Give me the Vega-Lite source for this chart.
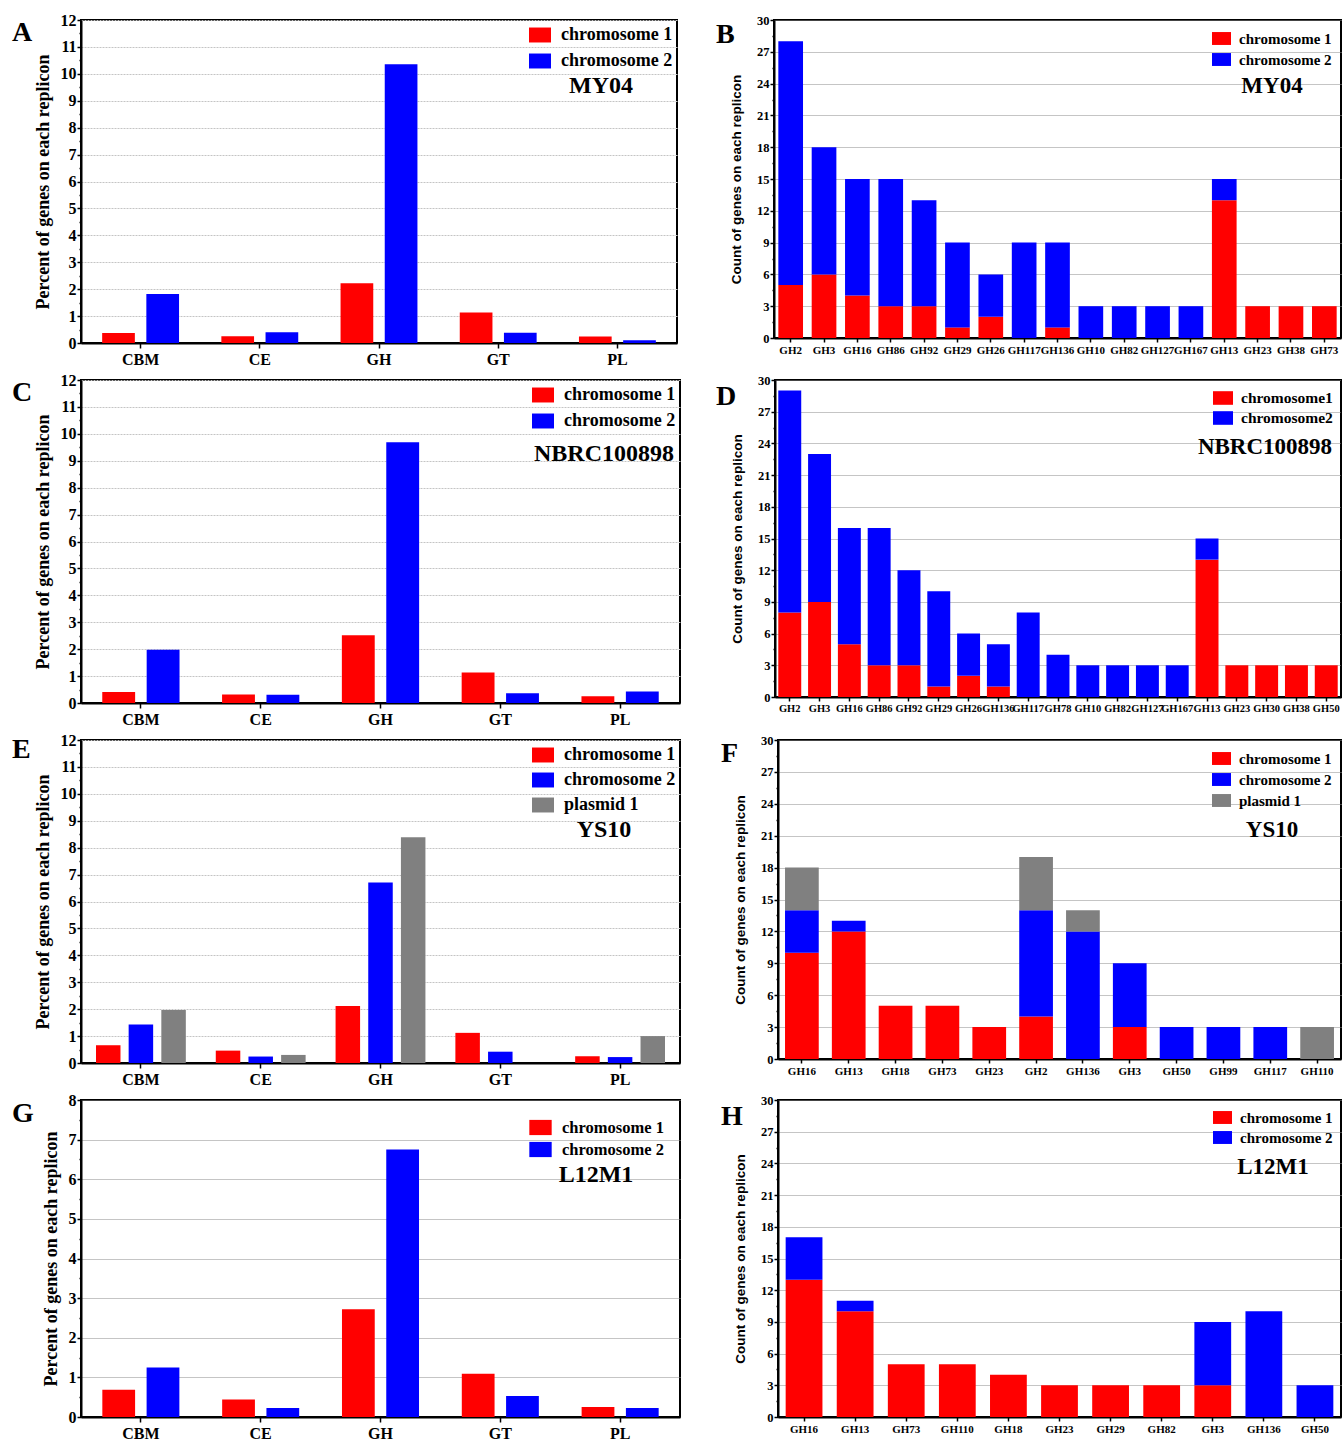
{
  "$schema": "https://vega.github.io/schema/vega-lite/v6.json",
  "background": "white",
  "padding": {"left": 11, "top": 11, "right": 0, "bottom": 0},
  "spacing": 3,
  "resolve": {"scale": {"color": "independent", "xOffset": "independent"}, "legend": {"color": "independent"}},
  "vconcat": [
    {
      "spacing": 37,
      "resolve": {"scale": {"color": "independent", "xOffset": "independent"}, "legend": {"color": "independent"}},
      "hconcat": [
        {
          "width": 596, "height": 323,
          "title": {"text": "A", "dx": -69, "dy": 39},
          "data": {"values": [
            {"family": "CBM", "replicon": "chromosome 1", "percent": 0.37},
            {"family": "CBM", "replicon": "chromosome 2", "percent": 1.82},
            {"family": "CE", "replicon": "chromosome 1", "percent": 0.25},
            {"family": "CE", "replicon": "chromosome 2", "percent": 0.40},
            {"family": "GH", "replicon": "chromosome 1", "percent": 2.22},
            {"family": "GH", "replicon": "chromosome 2", "percent": 10.36},
            {"family": "GT", "replicon": "chromosome 1", "percent": 1.13},
            {"family": "GT", "replicon": "chromosome 2", "percent": 0.38},
            {"family": "PL", "replicon": "chromosome 1", "percent": 0.24},
            {"family": "PL", "replicon": "chromosome 2", "percent": 0.10}
          ]},
          "mark": {"type": "bar"},
          "encoding": {
            "x": {"field": "family", "type": "nominal", "sort": null,
                  "scale": {"paddingInner": 0.355, "paddingOuter": 0.1775},
                  "axis": {"title": null, "labelFontSize": 16, "tickSize": 5, "labelPadding": 3}},
            "xOffset": {"field": "replicon", "type": "nominal",
                        "scale": {"domain": ["chromosome 1", "chromosome 2"], "paddingInner": 0.26, "paddingOuter": 0}},
            "y": {"field": "percent", "type": "quantitative",
                  "scale": {"domain": [0, 12], "nice": false},
                  "axis": {"title": "Percent of genes on each replicon", "titleFont": "Liberation Serif", "titleFontSize": 18, "titlePadding": 8,
                           "labelFontSize": 16, "labelPadding": 1,
                           "values": [0, 0.5, 1, 1.5, 2, 2.5, 3, 3.5, 4, 4.5, 5, 5.5, 6, 6.5, 7, 7.5, 8, 8.5, 9, 9.5, 10, 10.5, 11, 11.5, 12],
                           "labelExpr": "datum.value % 1 === 0 ? '' + datum.value : ''",
                           "tickSize": {"condition": {"test": "datum.value % 1 !== 0", "value": 2}, "value": 4},
                           "grid": true, "gridColor": "#c4c4c4", "gridDash": [2, 1],
                           "gridOpacity": {"condition": {"test": "datum.value % 1 !== 0", "value": 0}, "value": 1}}},
            "color": {"field": "replicon", "type": "nominal",
                      "scale": {"domain": ["chromosome 1", "chromosome 2"], "range": ["#ff0000", "#0000ff"]},
                      "legend": {"title": "MY04", "titleFontSize": 24, "labelFontSize": 18, "symbolSize": 484, "offset": 4, "rowPadding": 6, "labelOffset": 10, "titlePadding": 4}}
          }
        },
        {
          "width": 567, "height": 318,
          "title": {"text": "B", "dx": -58, "dy": 39},
          "data": {"values": [
            {"family": "GH2", "replicon": "chromosome 1", "count": 5},
            {"family": "GH2", "replicon": "chromosome 2", "count": 23},
            {"family": "GH3", "replicon": "chromosome 1", "count": 6},
            {"family": "GH3", "replicon": "chromosome 2", "count": 12},
            {"family": "GH16", "replicon": "chromosome 1", "count": 4},
            {"family": "GH16", "replicon": "chromosome 2", "count": 11},
            {"family": "GH86", "replicon": "chromosome 1", "count": 3},
            {"family": "GH86", "replicon": "chromosome 2", "count": 12},
            {"family": "GH92", "replicon": "chromosome 1", "count": 3},
            {"family": "GH92", "replicon": "chromosome 2", "count": 10},
            {"family": "GH29", "replicon": "chromosome 1", "count": 1},
            {"family": "GH29", "replicon": "chromosome 2", "count": 8},
            {"family": "GH26", "replicon": "chromosome 1", "count": 2},
            {"family": "GH26", "replicon": "chromosome 2", "count": 4},
            {"family": "GH117", "replicon": "chromosome 2", "count": 9},
            {"family": "GH136", "replicon": "chromosome 1", "count": 1},
            {"family": "GH136", "replicon": "chromosome 2", "count": 8},
            {"family": "GH10", "replicon": "chromosome 2", "count": 3},
            {"family": "GH82", "replicon": "chromosome 2", "count": 3},
            {"family": "GH127", "replicon": "chromosome 2", "count": 3},
            {"family": "GH167", "replicon": "chromosome 2", "count": 3},
            {"family": "GH13", "replicon": "chromosome 1", "count": 13},
            {"family": "GH13", "replicon": "chromosome 2", "count": 2},
            {"family": "GH23", "replicon": "chromosome 1", "count": 3},
            {"family": "GH38", "replicon": "chromosome 1", "count": 3},
            {"family": "GH73", "replicon": "chromosome 1", "count": 3}
          ]},
          "mark": {"type": "bar"},
          "encoding": {
            "x": {"field": "family", "type": "nominal", "sort": null,
                  "scale": {"paddingInner": 0.26, "paddingOuter": 0.13},
                  "axis": {"title": null, "labelFontSize": 11, "tickSize": 4, "labelPadding": 2}},
            "y": {"field": "count", "type": "quantitative", "stack": "zero",
                  "scale": {"domain": [0, 30], "nice": false},
                  "axis": {"title": "Count of genes on each replicon", "titleFont": "Liberation Sans", "titleFontSize": 13.5, "titlePadding": 13,
                           "labelFontSize": 12.5, "labelPadding": 1,
                           "values": [0, 1.5, 3, 4.5, 6, 7.5, 9, 10.5, 12, 13.5, 15, 16.5, 18, 19.5, 21, 22.5, 24, 25.5, 27, 28.5, 30],
                           "labelExpr": "datum.value % 3 === 0 ? '' + datum.value : ''",
                           "tickSize": {"condition": {"test": "datum.value % 3 !== 0", "value": 2}, "value": 4},
                           "grid": true, "gridColor": "#8a8a8a", "gridDash": [1, 1],
                           "gridOpacity": {"condition": {"test": "datum.value % 3 !== 0", "value": 0}, "value": 1}}},
            "order": {"field": "replicon", "sort": "ascending"},
            "color": {"field": "replicon", "type": "nominal",
                      "scale": {"domain": ["chromosome 1", "chromosome 2"], "range": ["#ff0000", "#0000ff"]},
                      "legend": {"title": "MY04", "titleFontSize": 23, "labelFontSize": 15, "symbolSize": 361, "offset": 9, "rowPadding": 3, "labelOffset": 8, "titlePadding": 7}}
          }
        }
      ]
    },
    {
      "spacing": 34,
      "resolve": {"scale": {"color": "independent", "xOffset": "independent"}, "legend": {"color": "independent"}},
      "hconcat": [
        {
          "width": 599, "height": 323,
          "title": {"text": "C", "dx": -69, "dy": 39},
          "data": {"values": [
            {"family": "CBM", "replicon": "chromosome 1", "percent": 0.41},
            {"family": "CBM", "replicon": "chromosome 2", "percent": 1.98},
            {"family": "CE", "replicon": "chromosome 1", "percent": 0.32},
            {"family": "CE", "replicon": "chromosome 2", "percent": 0.31},
            {"family": "GH", "replicon": "chromosome 1", "percent": 2.52},
            {"family": "GH", "replicon": "chromosome 2", "percent": 9.69},
            {"family": "GT", "replicon": "chromosome 1", "percent": 1.13},
            {"family": "GT", "replicon": "chromosome 2", "percent": 0.36},
            {"family": "PL", "replicon": "chromosome 1", "percent": 0.25},
            {"family": "PL", "replicon": "chromosome 2", "percent": 0.43}
          ]},
          "mark": {"type": "bar"},
          "encoding": {
            "x": {"field": "family", "type": "nominal", "sort": null,
                  "scale": {"paddingInner": 0.355, "paddingOuter": 0.1775},
                  "axis": {"title": null, "labelFontSize": 16, "tickSize": 5, "labelPadding": 3}},
            "xOffset": {"field": "replicon", "type": "nominal",
                        "scale": {"domain": ["chromosome 1", "chromosome 2"], "paddingInner": 0.26, "paddingOuter": 0}},
            "y": {"field": "percent", "type": "quantitative",
                  "scale": {"domain": [0, 12], "nice": false},
                  "axis": {"title": "Percent of genes on each replicon", "titleFont": "Liberation Serif", "titleFontSize": 18, "titlePadding": 8,
                           "labelFontSize": 16, "labelPadding": 1,
                           "values": [0, 0.5, 1, 1.5, 2, 2.5, 3, 3.5, 4, 4.5, 5, 5.5, 6, 6.5, 7, 7.5, 8, 8.5, 9, 9.5, 10, 10.5, 11, 11.5, 12],
                           "labelExpr": "datum.value % 1 === 0 ? '' + datum.value : ''",
                           "tickSize": {"condition": {"test": "datum.value % 1 !== 0", "value": 2}, "value": 4},
                           "grid": true, "gridColor": "#c4c4c4", "gridDash": [2, 1],
                           "gridOpacity": {"condition": {"test": "datum.value % 1 !== 0", "value": 0}, "value": 1}}},
            "color": {"field": "replicon", "type": "nominal",
                      "scale": {"domain": ["chromosome 1", "chromosome 2"], "range": ["#ff0000", "#0000ff"]},
                      "legend": {"title": "NBRC100898", "titleFontSize": 24, "labelFontSize": 18, "symbolSize": 484, "offset": 4, "rowPadding": 6, "labelOffset": 10, "titlePadding": 12}}
          }
        },
        {
          "width": 566, "height": 317,
          "title": {"text": "D", "dx": -59, "dy": 41},
          "data": {"values": [
            {"family": "GH2", "replicon": "chromosome1", "count": 8},
            {"family": "GH2", "replicon": "chromosome2", "count": 21},
            {"family": "GH3", "replicon": "chromosome1", "count": 9},
            {"family": "GH3", "replicon": "chromosome2", "count": 14},
            {"family": "GH16", "replicon": "chromosome1", "count": 5},
            {"family": "GH16", "replicon": "chromosome2", "count": 11},
            {"family": "GH86", "replicon": "chromosome1", "count": 3},
            {"family": "GH86", "replicon": "chromosome2", "count": 13},
            {"family": "GH92", "replicon": "chromosome1", "count": 3},
            {"family": "GH92", "replicon": "chromosome2", "count": 9},
            {"family": "GH29", "replicon": "chromosome1", "count": 1},
            {"family": "GH29", "replicon": "chromosome2", "count": 9},
            {"family": "GH26", "replicon": "chromosome1", "count": 2},
            {"family": "GH26", "replicon": "chromosome2", "count": 4},
            {"family": "GH136", "replicon": "chromosome1", "count": 1},
            {"family": "GH136", "replicon": "chromosome2", "count": 4},
            {"family": "GH117", "replicon": "chromosome2", "count": 8},
            {"family": "GH78", "replicon": "chromosome2", "count": 4},
            {"family": "GH10", "replicon": "chromosome2", "count": 3},
            {"family": "GH82", "replicon": "chromosome2", "count": 3},
            {"family": "GH127", "replicon": "chromosome2", "count": 3},
            {"family": "GH167", "replicon": "chromosome2", "count": 3},
            {"family": "GH13", "replicon": "chromosome1", "count": 13},
            {"family": "GH13", "replicon": "chromosome2", "count": 2},
            {"family": "GH23", "replicon": "chromosome1", "count": 3},
            {"family": "GH30", "replicon": "chromosome1", "count": 3},
            {"family": "GH38", "replicon": "chromosome1", "count": 3},
            {"family": "GH50", "replicon": "chromosome1", "count": 3}
          ]},
          "mark": {"type": "bar"},
          "encoding": {
            "x": {"field": "family", "type": "nominal", "sort": null,
                  "scale": {"paddingInner": 0.23, "paddingOuter": 0.11},
                  "axis": {"title": null, "labelFontSize": 10.5, "tickSize": 4, "labelPadding": 2}},
            "y": {"field": "count", "type": "quantitative", "stack": "zero",
                  "scale": {"domain": [0, 30], "nice": false},
                  "axis": {"title": "Count of genes on each replicon", "titleFont": "Liberation Sans", "titleFontSize": 13.5, "titlePadding": 13,
                           "labelFontSize": 12.5, "labelPadding": 1,
                           "values": [0, 1.5, 3, 4.5, 6, 7.5, 9, 10.5, 12, 13.5, 15, 16.5, 18, 19.5, 21, 22.5, 24, 25.5, 27, 28.5, 30],
                           "labelExpr": "datum.value % 3 === 0 ? '' + datum.value : ''",
                           "tickSize": {"condition": {"test": "datum.value % 3 !== 0", "value": 2}, "value": 4},
                           "grid": true, "gridColor": "#8a8a8a", "gridDash": [1, 1],
                           "gridOpacity": {"condition": {"test": "datum.value % 3 !== 0", "value": 0}, "value": 1}}},
            "order": {"field": "replicon", "sort": "ascending"},
            "color": {"field": "replicon", "type": "nominal",
                      "scale": {"domain": ["chromosome1", "chromosome2"], "range": ["#ff0000", "#0000ff"]},
                      "legend": {"title": "NBRC100898", "titleFontSize": 23, "labelFontSize": 15.5, "symbolSize": 400, "symbolOffset": 16, "offset": 8, "rowPadding": 1, "labelOffset": 8, "titlePadding": 9}}
          }
        }
      ]
    },
    {
      "spacing": 39,
      "resolve": {"scale": {"color": "independent", "xOffset": "independent"}, "legend": {"color": "independent"}},
      "hconcat": [
        {
          "width": 599, "height": 323,
          "title": {"text": "E", "dx": -69, "dy": 36},
          "data": {"values": [
            {"family": "CBM", "replicon": "chromosome 1", "percent": 0.66},
            {"family": "CBM", "replicon": "chromosome 2", "percent": 1.43},
            {"family": "CBM", "replicon": "plasmid 1", "percent": 1.97},
            {"family": "CE", "replicon": "chromosome 1", "percent": 0.46},
            {"family": "CE", "replicon": "chromosome 2", "percent": 0.24},
            {"family": "CE", "replicon": "plasmid 1", "percent": 0.30},
            {"family": "GH", "replicon": "chromosome 1", "percent": 2.12},
            {"family": "GH", "replicon": "chromosome 2", "percent": 6.71},
            {"family": "GH", "replicon": "plasmid 1", "percent": 8.39},
            {"family": "GT", "replicon": "chromosome 1", "percent": 1.12},
            {"family": "GT", "replicon": "chromosome 2", "percent": 0.42},
            {"family": "PL", "replicon": "chromosome 1", "percent": 0.25},
            {"family": "PL", "replicon": "chromosome 2", "percent": 0.22},
            {"family": "PL", "replicon": "plasmid 1", "percent": 1.00}
          ]},
          "mark": {"type": "bar"},
          "encoding": {
            "x": {"field": "family", "type": "nominal", "sort": null,
                  "scale": {"paddingInner": 0.25, "paddingOuter": 0.125},
                  "axis": {"title": null, "labelFontSize": 16, "tickSize": 5, "labelPadding": 3}},
            "xOffset": {"field": "replicon", "type": "nominal",
                        "scale": {"domain": ["chromosome 1", "chromosome 2", "plasmid 1"], "paddingInner": 0.25, "paddingOuter": 0}},
            "y": {"field": "percent", "type": "quantitative",
                  "scale": {"domain": [0, 12], "nice": false},
                  "axis": {"title": "Percent of genes on each replicon", "titleFont": "Liberation Serif", "titleFontSize": 18, "titlePadding": 8,
                           "labelFontSize": 16, "labelPadding": 1,
                           "values": [0, 0.5, 1, 1.5, 2, 2.5, 3, 3.5, 4, 4.5, 5, 5.5, 6, 6.5, 7, 7.5, 8, 8.5, 9, 9.5, 10, 10.5, 11, 11.5, 12],
                           "labelExpr": "datum.value % 1 === 0 ? '' + datum.value : ''",
                           "tickSize": {"condition": {"test": "datum.value % 1 !== 0", "value": 2}, "value": 4},
                           "grid": true, "gridColor": "#c4c4c4", "gridDash": [2, 1],
                           "gridOpacity": {"condition": {"test": "datum.value % 1 !== 0", "value": 0}, "value": 1}}},
            "color": {"field": "replicon", "type": "nominal",
                      "scale": {"domain": ["chromosome 1", "chromosome 2", "plasmid 1"], "range": ["#ff0000", "#0000ff", "#808080"]},
                      "legend": {"title": "YS10", "titleFontSize": 24, "labelFontSize": 18, "symbolSize": 484, "offset": 4, "rowPadding": 5, "labelOffset": 10, "titlePadding": 4}}
          }
        },
        {
          "width": 563, "height": 319,
          "title": {"text": "F", "dx": -57, "dy": 38},
          "data": {"values": [
            {"family": "GH16", "replicon": "chromosome 1", "count": 10},
            {"family": "GH16", "replicon": "chromosome 2", "count": 4},
            {"family": "GH16", "replicon": "plasmid 1", "count": 4},
            {"family": "GH13", "replicon": "chromosome 1", "count": 12},
            {"family": "GH13", "replicon": "chromosome 2", "count": 1},
            {"family": "GH18", "replicon": "chromosome 1", "count": 5},
            {"family": "GH73", "replicon": "chromosome 1", "count": 5},
            {"family": "GH23", "replicon": "chromosome 1", "count": 3},
            {"family": "GH2", "replicon": "chromosome 1", "count": 4},
            {"family": "GH2", "replicon": "chromosome 2", "count": 10},
            {"family": "GH2", "replicon": "plasmid 1", "count": 5},
            {"family": "GH136", "replicon": "chromosome 2", "count": 12},
            {"family": "GH136", "replicon": "plasmid 1", "count": 2},
            {"family": "GH3", "replicon": "chromosome 1", "count": 3},
            {"family": "GH3", "replicon": "chromosome 2", "count": 6},
            {"family": "GH50", "replicon": "chromosome 2", "count": 3},
            {"family": "GH99", "replicon": "chromosome 2", "count": 3},
            {"family": "GH117", "replicon": "chromosome 2", "count": 3},
            {"family": "GH110", "replicon": "plasmid 1", "count": 3}
          ]},
          "mark": {"type": "bar"},
          "encoding": {
            "x": {"field": "family", "type": "nominal", "sort": null,
                  "scale": {"paddingInner": 0.28, "paddingOuter": 0.15},
                  "axis": {"title": null, "labelFontSize": 11, "tickSize": 4, "labelPadding": 2}},
            "y": {"field": "count", "type": "quantitative", "stack": "zero",
                  "scale": {"domain": [0, 30], "nice": false},
                  "axis": {"title": "Count of genes on each replicon", "titleFont": "Liberation Sans", "titleFontSize": 13.5, "titlePadding": 13,
                           "labelFontSize": 12.5, "labelPadding": 1,
                           "values": [0, 1.5, 3, 4.5, 6, 7.5, 9, 10.5, 12, 13.5, 15, 16.5, 18, 19.5, 21, 22.5, 24, 25.5, 27, 28.5, 30],
                           "labelExpr": "datum.value % 3 === 0 ? '' + datum.value : ''",
                           "tickSize": {"condition": {"test": "datum.value % 3 !== 0", "value": 2}, "value": 4},
                           "grid": true, "gridColor": "#8a8a8a", "gridDash": [1, 1],
                           "gridOpacity": {"condition": {"test": "datum.value % 3 !== 0", "value": 0}, "value": 1}}},
            "order": {"field": "replicon", "sort": "ascending"},
            "color": {"field": "replicon", "type": "nominal",
                      "scale": {"domain": ["chromosome 1", "chromosome 2", "plasmid 1"], "range": ["#ff0000", "#0000ff", "#808080"]},
                      "legend": {"title": "YS10", "titleFontSize": 23, "labelFontSize": 15, "symbolSize": 361, "offset": 9, "rowPadding": 3, "labelOffset": 8, "titlePadding": 10}}
          }
        }
      ]
    },
    {
      "spacing": 39,
      "resolve": {"scale": {"color": "independent", "xOffset": "independent"}, "legend": {"color": "independent"}},
      "hconcat": [
        {
          "width": 599, "height": 317,
          "title": {"text": "G", "dx": -69, "dy": 40},
          "data": {"values": [
            {"family": "CBM", "replicon": "chromosome 1", "percent": 0.69},
            {"family": "CBM", "replicon": "chromosome 2", "percent": 1.25},
            {"family": "CE", "replicon": "chromosome 1", "percent": 0.44},
            {"family": "CE", "replicon": "chromosome 2", "percent": 0.23},
            {"family": "GH", "replicon": "chromosome 1", "percent": 2.72},
            {"family": "GH", "replicon": "chromosome 2", "percent": 6.75},
            {"family": "GT", "replicon": "chromosome 1", "percent": 1.09},
            {"family": "GT", "replicon": "chromosome 2", "percent": 0.53},
            {"family": "PL", "replicon": "chromosome 1", "percent": 0.25},
            {"family": "PL", "replicon": "chromosome 2", "percent": 0.23}
          ]},
          "mark": {"type": "bar"},
          "encoding": {
            "x": {"field": "family", "type": "nominal", "sort": null,
                  "scale": {"paddingInner": 0.357, "paddingOuter": 0.178},
                  "axis": {"title": null, "labelFontSize": 16, "tickSize": 5, "labelPadding": 3}},
            "xOffset": {"field": "replicon", "type": "nominal",
                        "scale": {"domain": ["chromosome 1", "chromosome 2"], "paddingInner": 0.26, "paddingOuter": 0}},
            "y": {"field": "percent", "type": "quantitative",
                  "scale": {"domain": [0, 8], "nice": false},
                  "axis": {"title": "Percent of genes on each replicon", "titleFont": "Liberation Serif", "titleFontSize": 18, "titlePadding": 8,
                           "labelFontSize": 16, "labelPadding": 1,
                           "values": [0, 0.5, 1, 1.5, 2, 2.5, 3, 3.5, 4, 4.5, 5, 5.5, 6, 6.5, 7, 7.5, 8],
                           "labelExpr": "datum.value % 1 === 0 ? '' + datum.value : ''",
                           "tickSize": {"condition": {"test": "datum.value % 1 !== 0", "value": 2}, "value": 4},
                           "grid": true, "gridColor": "#8a8a8a", "gridDash": [1, 1],
                           "gridOpacity": {"condition": {"test": "datum.value % 1 !== 0", "value": 0}, "value": 1}}},
            "color": {"field": "replicon", "type": "nominal",
                      "scale": {"domain": ["chromosome 1", "chromosome 2"], "range": ["#ff0000", "#0000ff"]},
                      "legend": {"title": "L12M1", "titleFontSize": 24, "labelFontSize": 16.5, "symbolSize": 500, "offset": 16, "rowPadding": 2, "labelOffset": 10, "titlePadding": 5}}
          }
        },
        {
          "width": 563, "height": 317,
          "title": {"text": "H", "dx": -57, "dy": 41},
          "data": {"values": [
            {"family": "GH16", "replicon": "chromosome 1", "count": 13},
            {"family": "GH16", "replicon": "chromosome 2", "count": 4},
            {"family": "GH13", "replicon": "chromosome 1", "count": 10},
            {"family": "GH13", "replicon": "chromosome 2", "count": 1},
            {"family": "GH73", "replicon": "chromosome 1", "count": 5},
            {"family": "GH110", "replicon": "chromosome 1", "count": 5},
            {"family": "GH18", "replicon": "chromosome 1", "count": 4},
            {"family": "GH23", "replicon": "chromosome 1", "count": 3},
            {"family": "GH29", "replicon": "chromosome 1", "count": 3},
            {"family": "GH82", "replicon": "chromosome 1", "count": 3},
            {"family": "GH3", "replicon": "chromosome 1", "count": 3},
            {"family": "GH3", "replicon": "chromosome 2", "count": 6},
            {"family": "GH136", "replicon": "chromosome 2", "count": 10},
            {"family": "GH50", "replicon": "chromosome 2", "count": 3}
          ]},
          "mark": {"type": "bar"},
          "encoding": {
            "x": {"field": "family", "type": "nominal", "sort": null,
                  "scale": {"paddingInner": 0.28, "paddingOuter": 0.15},
                  "axis": {"title": null, "labelFontSize": 11, "tickSize": 4, "labelPadding": 2}},
            "y": {"field": "count", "type": "quantitative", "stack": "zero",
                  "scale": {"domain": [0, 30], "nice": false},
                  "axis": {"title": "Count of genes on each replicon", "titleFont": "Liberation Sans", "titleFontSize": 13.5, "titlePadding": 13,
                           "labelFontSize": 12.5, "labelPadding": 1,
                           "values": [0, 1.5, 3, 4.5, 6, 7.5, 9, 10.5, 12, 13.5, 15, 16.5, 18, 19.5, 21, 22.5, 24, 25.5, 27, 28.5, 30],
                           "labelExpr": "datum.value % 3 === 0 ? '' + datum.value : ''",
                           "tickSize": {"condition": {"test": "datum.value % 3 !== 0", "value": 2}, "value": 4},
                           "grid": true, "gridColor": "#8a8a8a", "gridDash": [1, 1],
                           "gridOpacity": {"condition": {"test": "datum.value % 3 !== 0", "value": 0}, "value": 1}}},
            "order": {"field": "replicon", "sort": "ascending"},
            "color": {"field": "replicon", "type": "nominal",
                      "scale": {"domain": ["chromosome 1", "chromosome 2"], "range": ["#ff0000", "#0000ff"]},
                      "legend": {"title": "L12M1", "titleFontSize": 23, "labelFontSize": 15, "symbolSize": 361, "offset": 8, "rowPadding": 2, "labelOffset": 8, "titlePadding": 10}}
          }
        }
      ]
    }
  ],
  "config": {
    "font": "Liberation Serif",
    "view": {"stroke": "black", "strokeWidth": 2},
    "title": {"font": "Liberation Serif", "fontSize": 28, "fontWeight": "bold", "color": "black", "anchor": "start", "frame": "group", "offset": 0, "baseline": "alphabetic"},
    "axis": {"domainColor": "black", "domainWidth": 2, "tickColor": "black", "tickWidth": 1.5, "labelColor": "black", "titleColor": "black", "labelFont": "Liberation Serif", "labelFontWeight": "bold", "titleFontWeight": "bold", "labelOverlap": false},
    "axisX": {"labelAngle": 0, "grid": false},
    "legend": {"orient": "top-right", "titleOrient": "bottom", "titleAnchor": "middle", "titleFont": "Liberation Serif", "titleFontWeight": "bold", "titleColor": "black", "titleLimit": 400, "labelFont": "Liberation Serif", "labelFontWeight": "bold", "labelColor": "black", "labelLimit": 400, "symbolType": "M-1,-0.68H1V0.68H-1Z", "symbolStrokeWidth": 0, "symbolOpacity": 1, "padding": 0}
  }
}
